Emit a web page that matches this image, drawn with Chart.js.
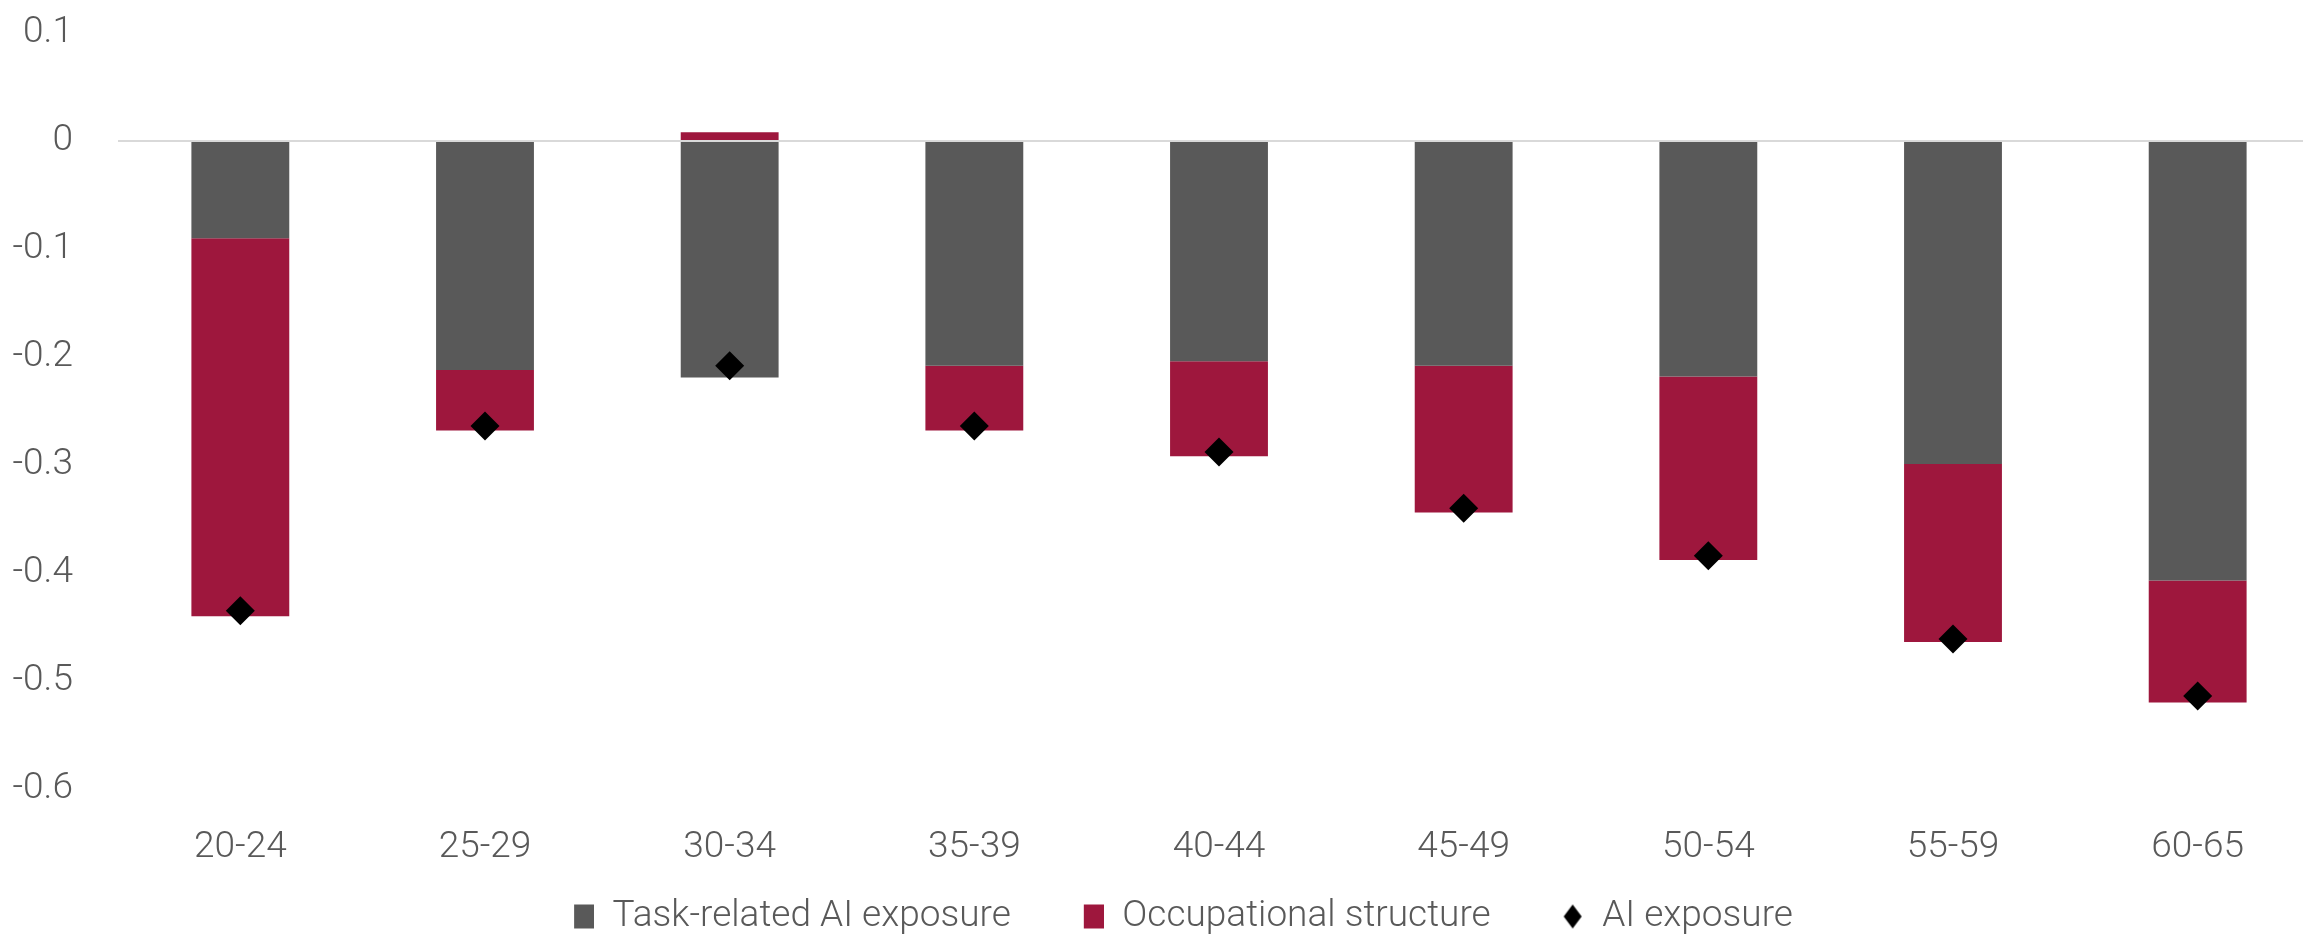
<!DOCTYPE html>
<html>
<head>
<meta charset="utf-8">
<script src="https://cdn.jsdelivr.net/npm/chart.js@4.4.1/dist/chart.umd.min.js"></script>
<style>
  html, body { margin: 0; padding: 0; background: #fff; overflow: hidden; }
  /* the category axis runs a little past the right edge, as in the source */
  #wrap { width: 2320px; height: 945px; position: relative; }
</style>
</head>
<body>
<div id="wrap"><canvas id="chartAgeExposure"></canvas></div>
<script>
  // Age groups and the two bar components
  const ageGroups = ["20-24", "25-29", "30-34", "35-39", "40-44", "45-49", "50-54", "55-59", "60-65"];
  const taskRelated = [-0.090, -0.212, -0.219, -0.208, -0.204, -0.208, -0.218, -0.299, -0.407];
  const occupational = [-0.350, -0.056, 0.008, -0.060, -0.088, -0.136, -0.170, -0.165, -0.113];
  const aiExposure = [-0.435, -0.264, -0.208, -0.264, -0.288, -0.340, -0.384, -0.461, -0.514];
  const yTicks = [0.1, 0, -0.1, -0.2, -0.3, -0.4, -0.5, -0.6];

  const GREY = "#595959";
  const WINE = "#9E173D";
  const TEXT = "#595959";
  const FONT = "'Roboto', sans-serif";
  const FONT_SIZE = 37;
  const SWATCH_W = 67;   // legend swatch slot; glyph sits at its right end

  // legend swatches: transparent lead-in gives the wide gap between items
  function makeSwatch(kind, color) {
    const cv = document.createElement("canvas");
    cv.width = SWATCH_W; cv.height = 26;
    const c = cv.getContext("2d");
    c.fillStyle = color;
    const x0 = SWATCH_W - 20;
    if (kind === "diamond") {
      c.beginPath();
      c.moveTo(x0 + 9, 1); c.lineTo(x0 + 18, 13); c.lineTo(x0 + 9, 25); c.lineTo(x0, 13);
      c.closePath(); c.fill();
    } else {
      c.fillRect(x0, 1, 20, 24);
    }
    return cv;
  }
  const swatches = [makeSwatch("rect", GREY), makeSwatch("rect", WINE), makeSwatch("diamond", "#000")];

  Chart.defaults.font.family = FONT;
  Chart.defaults.font.weight = 300;
  Chart.defaults.color = TEXT;

  new Chart(document.getElementById("chartAgeExposure"), {
    data: {
      labels: ageGroups,
      datasets: [
        {
          type: "bar",
          label: "Task-related AI exposure",
          data: taskRelated,
          backgroundColor: GREY,
          stack: "parts",
          categoryPercentage: 1,
          barPercentage: 0.4,
          order: 1
        },
        {
          type: "bar",
          label: "Occupational structure",
          data: occupational,
          backgroundColor: WINE,
          stack: "parts",
          categoryPercentage: 1,
          barPercentage: 0.4,
          order: 1
        },
        {
          type: "line",
          label: "AI exposure",
          data: aiExposure,
          showLine: false,
          stack: "total",
          pointStyle: "rectRot",
          pointRadius: 14.5,
          pointHoverRadius: 14.5,
          backgroundColor: "#000",
          borderColor: "#000",
          borderWidth: 0,
          clip: false,
          order: 0
        }
      ]
    },
    options: {
      responsive: true,
      maintainAspectRatio: false,
      animation: false,
      layout: { autoPadding: false, padding: { top: 33, right: 0, bottom: 0, left: 0 } },
      scales: {
        x: {
          stacked: true,
          grid: { display: false, drawTicks: false },
          border: { display: false },
          afterFit: (scale) => {
            scale.paddingLeft = 0;
            scale.paddingRight = 0;
            scale.height = 83;
          },
          ticks: { font: { size: FONT_SIZE }, color: TEXT, padding: 37, maxRotation: 0 }
        },
        y: {
          stacked: true,
          min: -0.6,
          max: 0.1,
          afterBuildTicks: (scale) => { scale.ticks = yTicks.map(v => ({ value: v })); },
          afterFit: (scale) => {
            scale.width = 118;
            scale.paddingTop = 0;
            scale.paddingBottom = 0;
          },
          grid: {
            drawTicks: false,
            color: (ctx) => (ctx.tick && Math.abs(ctx.tick.value) < 1e-9 ? "#d9d9d9" : "rgba(0,0,0,0)"),
            lineWidth: 2
          },
          border: { display: false },
          ticks: {
            font: { size: FONT_SIZE },
            color: TEXT,
            padding: 45,
            callback: (v) => String(Number(Number(v).toFixed(1)))
          }
        }
      },
      plugins: {
        tooltip: { enabled: false },
        legend: {
          position: "bottom",
          labels: {
            font: { size: FONT_SIZE },
            color: TEXT,
            usePointStyle: true,
            pointStyleWidth: SWATCH_W,
            boxHeight: 25,
            padding: 26,
            sort: (a, b) => a.datasetIndex - b.datasetIndex,
            generateLabels: (chart) => {
              const items = Chart.defaults.plugins.legend.labels.generateLabels(chart);
              items.forEach(it => {
                it.pointStyle = swatches[it.datasetIndex];
                it.lineWidth = 0;
              });
              return items;
            }
          }
        }
      }
    }
  });
</script>
</body>
</html>
